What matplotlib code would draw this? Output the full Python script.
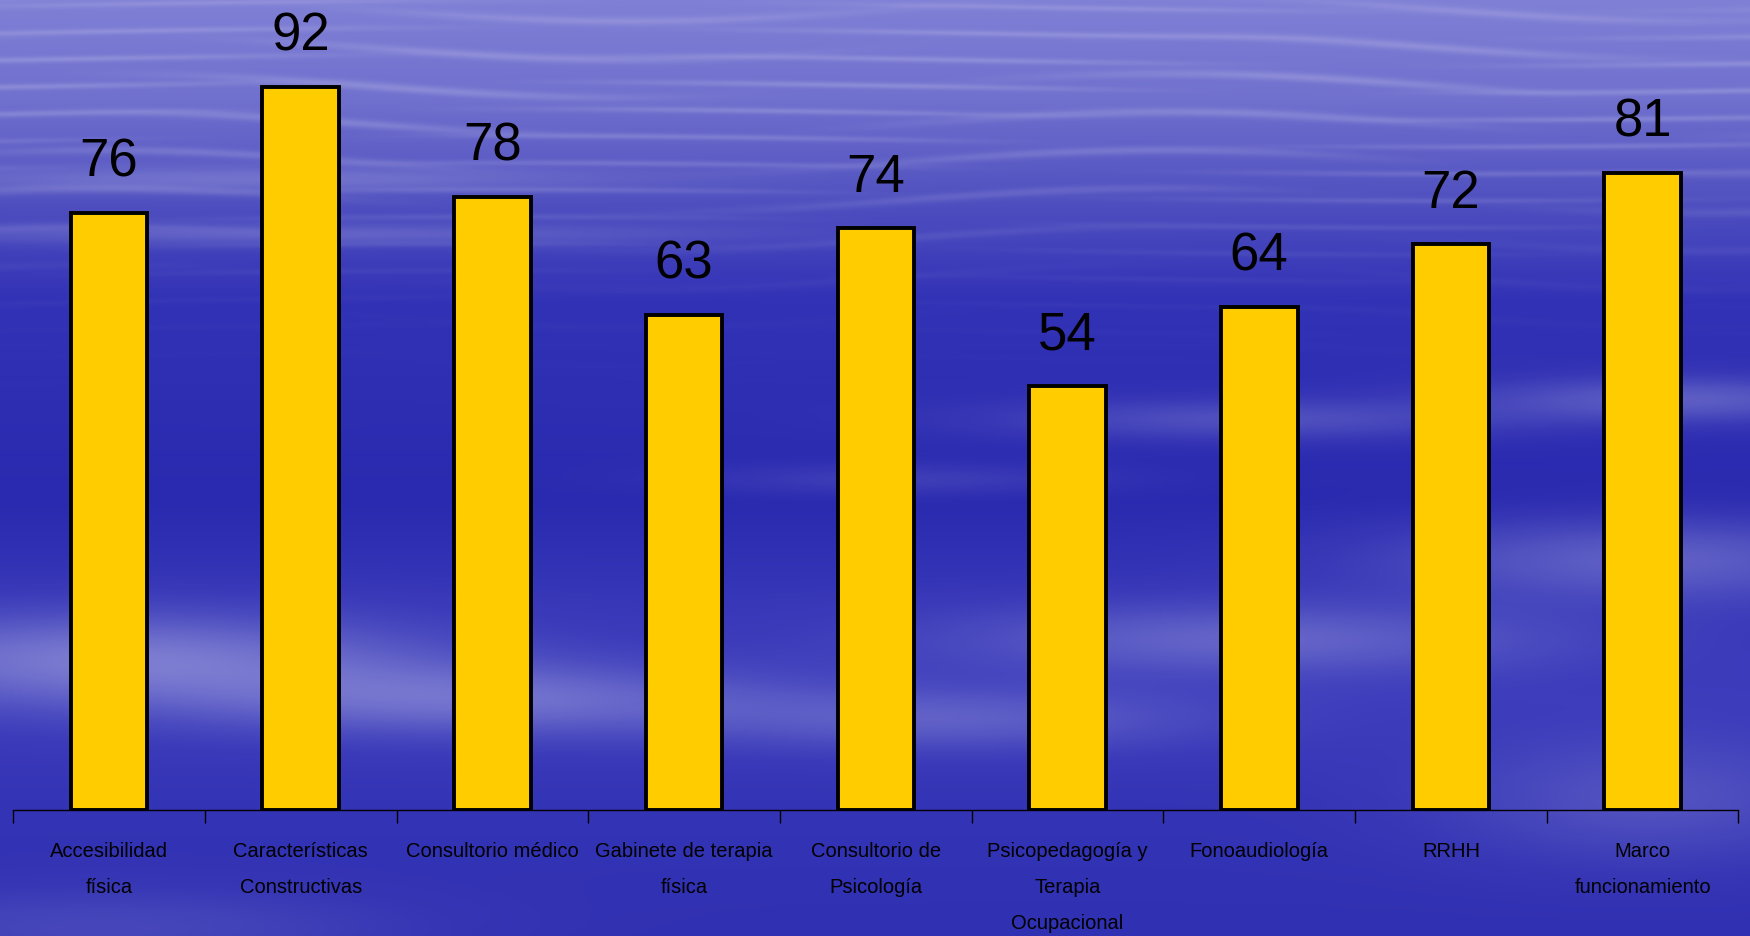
import numpy as np
import matplotlib
matplotlib.use("Agg")
import matplotlib.pyplot as plt

categories = ["Accesibilidad\nfísica", "Características\nConstructivas", "Consultorio médico",
              "Gabinete de terapia\nfísica", "Consultorio de\nPsicología",
              "Psicopedagogía y\nTerapia\nOcupacional", "Fonoaudiología", "RRHH",
              "Marco\nfuncionamiento"]
values = [76, 92, 78, 63, 74, 54, 64, 72, 81]

W, H = 1750, 937
fig = plt.figure(figsize=(W / 100, H / 100), dpi=100)

# ---- decorative sky background ----
bg = fig.add_axes([0, 0, 1, 1], zorder=0)
yy, xx = np.mgrid[0:H, 0:W].astype(float)
ys = [0, 100, 200, 300, 500, 600, 700, 800, 937]
rs = [128, 112, 80, 50, 42, 54, 60, 52, 48]
gs = rs
bs = [214, 206, 192, 182, 176, 184, 188, 182, 178]
r = np.interp(yy, ys, rs)
g = np.interp(yy, ys, gs)
b = np.interp(yy, ys, bs)
light = np.zeros_like(yy)
# fine horizontal streaks at top
s1 = (0.5 + 0.5 * np.sin(yy / 4.3 + 1.3 * np.sin(xx / 310.0))) ** 8
s2 = (0.5 + 0.5 * np.sin(yy / 6.1 + 2.0 * np.sin(xx / 170.0 + 1.0))) ** 8
mod = 0.5 + 0.5 * np.sin(xx / 140.0 + yy / 50.0)
light += 0.28 * (s1 * mod + s2 * (1 - mod)) * np.exp(-((yy - 80) / 150.0) ** 2)
# soft cloud patches
clouds = [(120, 660, 300, 45, 0.45), (480, 700, 280, 35, 0.35), (950, 720, 250, 30, 0.25),
          (1250, 640, 300, 35, 0.3), (1650, 560, 250, 40, 0.3), (1250, 420, 250, 20, 0.22),
          (1680, 400, 200, 22, 0.3), (250, 180, 350, 12, 0.25), (300, 235, 400, 10, 0.22),
          (1650, 800, 200, 60, 0.2), (100, 930, 300, 40, 0.15), (900, 480, 200, 15, 0.12)]
for cx, cy, sx, sy, a in clouds:
    light += a * np.exp(-((xx - cx) / sx) ** 2 - ((yy - cy) / sy) ** 2)
light = np.clip(light, 0, 0.8)
img = np.dstack([r + (200 - r) * light, g + (200 - g) * light, b + (235 - b) * light]) / 255.0
bg.imshow(np.clip(img, 0, 1), aspect="auto", extent=[0, 1, 0, 1], interpolation="bilinear")
bg.axis("off")

# ---- chart ----
ax = fig.add_axes([13.2 / W, 126 / H, 1725.3 / W, 786 / H], zorder=1)
ax.patch.set_alpha(0)
x = np.arange(len(values))
ax.bar(x, values, width=0.40, color="#FFCC00", edgecolor="black", linewidth=2.8, zorder=3)
for xi, v in zip(x, values):
    ax.annotate(f"{v}", (xi, v), xytext=(0, 27), textcoords="offset points",
                ha="center", va="baseline", fontsize=38, family="Liberation Sans", color="black")

ax.set_xlim(-0.5, len(values) - 0.5)
ax.set_ylim(0, 100)
for s in ["left", "right", "top"]:
    ax.spines[s].set_visible(False)
ax.spines["bottom"].set_linewidth(1.0)
ax.set_yticks([])
ax.set_xticks(x)
ax.set_xticklabels(categories, fontsize=14.5, family="Liberation Sans", linespacing=2.15, va="top")
ax.set_xticks(np.arange(len(values) + 1) - 0.5, minor=True)
ax.tick_params(axis="x", which="major", length=0, pad=22)
ax.tick_params(axis="x", which="minor", length=9.5, width=1.0, direction="out")

fig.savefig("out.png", dpi=100)
